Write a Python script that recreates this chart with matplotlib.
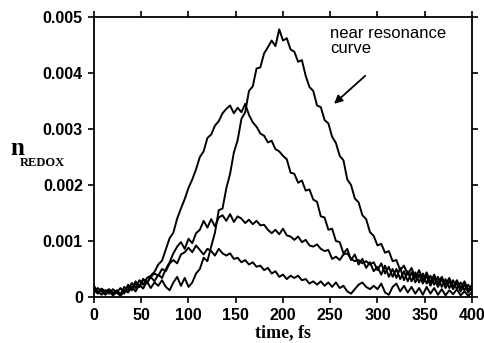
import numpy as np
import matplotlib
matplotlib.use("Agg")
import matplotlib.pyplot as plt
from matplotlib.font_manager import FontProperties

# time axis (fs), sampled every 4 fs
time_fs = list(range(0, 401, 4))

# n_REDOX values in units of 1e-4
near_resonance = [2.0, 0.8, 1.4, 0.6, 1.2, 0.5, 1.0, 0.3, 1.2, 0.8,
                  1.8, 1.0, 2.2, 1.5, 2.8, 1.6, 2.6, 2.0, 3.0, 1.8,
                  1.2, 2.6, 3.6, 2.0, 3.4, 1.8, 2.6, 4.2, 5.0, 7.0,
                  6.4, 9.0, 11.5, 15.5, 15.8, 19.4, 22.0, 25.8, 28.0, 31.8,
                  33.0, 36.8, 37.6, 40.8, 41.0, 43.5, 44.6, 45.8, 44.8, 47.8,
                  45.8, 46.2, 44.2, 43.8, 42.0, 42.3, 39.5, 37.5, 36.8, 34.2,
                  33.9, 31.6, 31.0, 28.6, 27.5, 25.2, 24.4, 21.0, 20.0, 17.6,
                  16.9, 14.6, 13.9, 11.6, 10.9, 9.2, 9.5, 7.9, 8.2, 6.4,
                  6.6, 4.8, 5.6, 4.0, 5.2, 3.4, 4.8, 3.0, 4.4, 2.6,
                  4.0, 2.4, 3.6, 2.2, 3.4, 1.8, 3.0, 1.6, 2.8, 1.2, 2.2]

early_peak = [1.2, 0.6, 1.5, 1.0, 1.4, 0.7, 1.2, 0.5, 1.8, 1.2,
              2.5, 1.6, 3.0, 2.2, 3.4, 3.8, 4.5, 5.8, 6.5, 8.5,
              10.5, 11.5, 14.0, 15.8, 17.5, 19.5, 21.0, 22.8, 25.0, 26.0,
              28.4, 29.0, 30.6, 31.4, 32.8, 33.6, 34.2, 32.8, 33.8, 33.0,
              34.5, 32.5, 31.2, 30.4, 29.2, 28.8, 27.6, 27.9, 26.4, 26.0,
              25.2, 24.6, 22.2, 22.0, 20.4, 20.8, 19.0, 19.2, 17.4, 17.0,
              14.4, 14.2, 12.0, 12.2, 10.0, 9.8, 7.8, 8.6, 6.6, 7.6,
              5.8, 6.8, 5.2, 6.2, 4.6, 5.4, 4.0, 5.6, 3.6, 5.0,
              3.4, 5.2, 3.0, 4.6, 2.8, 4.4, 2.6, 4.2, 2.4, 3.8,
              2.2, 3.6, 1.8, 3.2, 1.6, 3.0, 1.4, 2.6, 1.2, 2.2, 1.0]

plateau = [1.5, 1.0, 0.4, 1.2, 0.6, 1.4, 0.8, 1.6, 0.6, 2.2,
           1.4, 2.8, 1.8, 3.2, 2.4, 3.6, 2.8, 4.0, 3.4, 5.0,
           6.2, 7.8, 9.0, 9.8, 8.6, 10.4, 9.6, 11.4, 12.0, 13.6,
           12.4, 13.9, 12.6, 14.2, 14.6, 13.6, 14.8, 13.4, 14.4, 14.0,
           13.2, 13.8, 13.0, 13.6, 12.8, 12.9, 12.0, 11.4, 12.0, 11.2,
           12.2, 11.0, 10.8, 10.2, 10.8, 9.8, 10.2, 9.2, 9.0, 9.4,
           8.6, 8.2, 8.4, 6.8, 7.2, 6.6, 7.6, 7.8, 6.8, 6.4,
           6.6, 6.0, 6.4, 5.8, 6.2, 4.8, 6.0, 4.2, 5.4, 3.6,
           5.0, 3.2, 4.6, 2.8, 4.4, 2.6, 4.0, 2.4, 3.8, 2.0,
           3.4, 1.8, 3.2, 1.6, 2.8, 1.4, 2.6, 1.0, 2.2, 0.8, 1.8]

low_bump = [0.8, 1.6, 1.0, 0.4, 1.0, 0.3, 0.8, 0.2, 1.0, 2.0,
            1.2, 2.4, 1.8, 3.2, 2.6, 3.6, 4.2, 3.8, 5.0, 4.6,
            6.0, 6.6, 6.0, 7.6, 8.0, 8.8, 8.0, 9.2, 8.4, 7.6,
            8.6, 8.2, 7.4, 8.6, 7.8, 7.4, 7.8, 6.8, 7.0, 6.2,
            6.6, 5.8, 6.2, 5.4, 5.6, 4.8, 5.2, 4.2, 4.6, 3.6,
            4.0, 3.2, 3.8, 3.4, 3.8, 3.0, 3.2, 2.4, 2.8, 2.2,
            2.8, 2.0, 2.6, 1.8, 2.6, 1.6, 2.0, 1.0, 0.6, 1.4,
            2.2, 2.6, 1.8, 1.4, 2.0, 1.4, 2.4, 0.8, 0.4, 1.8,
            2.4, 1.0, 2.0, 0.8, 1.8, 0.6, 1.6, 0.4, 1.8, 0.6,
            1.6, 0.4, 1.4, 0.3, 1.2, 0.5, 1.4, 0.3, 1.0, 0.2, 0.9]

x_ticks = [0, 50, 100, 150, 200, 250, 300, 350, 400]
x_tick_labels = ["0", "50", "100", "150", "200", "250", "300", "350", "400"]
y_ticks = [0, 0.001, 0.002, 0.003, 0.004, 0.005]
y_tick_labels = ["0", "0.001", "0.002", "0.003", "0.004", "0.005"]

UNIT = 1e-4

fig = plt.figure(figsize=(4.85, 3.43), dpi=100)
ax = fig.add_axes([94 / 485, 1 - 297 / 343, (472 - 94) / 485, (297 - 17) / 343])

t = np.array(time_fs)
for series in (near_resonance, early_peak, plateau, low_bump):
    ax.plot(t, np.array(series) * UNIT, color="black", lw=1.4)

ax.set_xlim(0, 400)
ax.set_ylim(0, 0.005)
ax.set_xticks(x_ticks)
ax.set_xticklabels(x_tick_labels)
ax.set_yticks(y_ticks)
ax.set_yticklabels(y_tick_labels)

tick_fp = FontProperties(family="Liberation Sans", weight="bold", size=11.5)
for lab in ax.get_xticklabels() + ax.get_yticklabels():
    lab.set_fontproperties(tick_fp)

ax.tick_params(direction="out", length=4, width=1.2, top=True, right=True,
               labeltop=False, labelright=False, pad=4)
for sp in ax.spines.values():
    sp.set_linewidth(1.3)

ax.set_xlabel("time, fs", family="Liberation Serif", weight="bold", fontsize=13, labelpad=1)

# y label: n with REDOX subscript
fig.text(10 / 485, 1 - 155 / 343, "n", family="Liberation Serif", weight="bold",
         fontsize=18, ha="left", va="baseline")
fig.text(20 / 485, 1 - 166 / 343, "REDOX", family="Liberation Serif", weight="bold",
         fontsize=9, ha="left", va="baseline")

ax.annotate("", xy=(254, 0.00345), xytext=(287, 0.00395),
            arrowprops=dict(arrowstyle="-|>", color="black", lw=1.3,
                            mutation_scale=12, shrinkA=0, shrinkB=0))
ax.text(250, 0.00435, "near resonance\ncurve", family="Liberation Sans",
        fontsize=12, ha="left", va="baseline", linespacing=1.05)

fig.savefig("out.png", dpi=100)
